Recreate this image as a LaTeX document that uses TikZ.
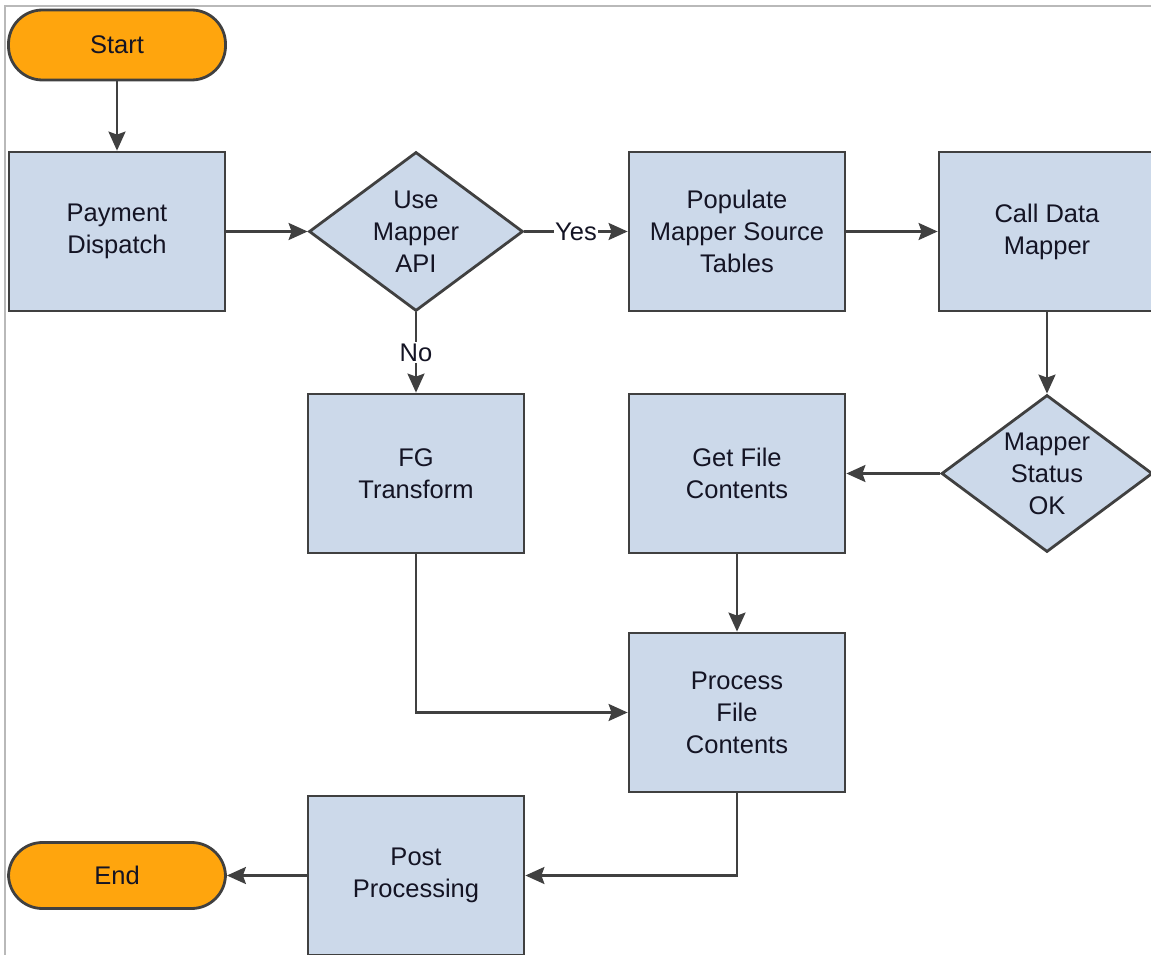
\documentclass[tikz,border=0pt]{standalone}
\usepackage{fontspec}
\setmainfont{Liberation Sans}
\usetikzlibrary{shapes.geometric,arrows.meta}
\definecolor{boxfill}{HTML}{CCD9EA}
\definecolor{boxline}{HTML}{404040}
\definecolor{pillfill}{HTML}{FFA50D}
\definecolor{txt}{HTML}{141424}
\tikzset{
  base/.style={draw=boxline, line width=2.8pt, text=txt, align=center,
    font=\fontsize{25.5}{32}\selectfont, inner sep=0pt},
  procbox/.style={base, rectangle, fill=boxfill, minimum width=216pt, minimum height=159pt},
  decbox/.style={base, diamond, fill=boxfill, aspect=1.35, minimum width=214pt, minimum height=159pt},
  pill/.style={base, rectangle, rounded corners=34pt, fill=pillfill, minimum width=217pt},
  conn/.style={draw=boxline, line width=2.4pt, -{Stealth[length=19pt,width=17pt,inset=3pt]}},
  lbl/.style={fill=white, text=txt, font=\fontsize{25.5}{32}\selectfont, inner sep=1.5pt}
}
\begin{document}
\begin{tikzpicture}[x=1pt,y=-1pt]
\useasboundingbox (0,0) rectangle (1151,955);
\fill[white] (0,0) rectangle (1151,955);
\draw[gray!55, line width=1.2pt] (5,955) -- (5,6) -- (1151,6);

\node[pill, minimum height=70pt] (start) at (117,45) {Start};
\node[procbox] (pay) at (117,231.5) {Payment\\Dispatch};
\node[decbox] (use) at (416,231.5) {Use\\Mapper\\API};
\node[procbox] (pop) at (737,231.5) {Populate\\Mapper Source\\Tables};
\node[procbox] (call) at (1047,231.5) {Call Data\\Mapper};
\node[decbox, minimum width=211pt, minimum height=157pt] (stat) at (1047,473.5) {Mapper\\Status\\OK};
\node[procbox] (fg) at (416,473.5) {FG\\Transform};
\node[procbox] (get) at (737,473.5) {Get File\\Contents};
\node[procbox] (proc) at (737,712.5) {Process\\File\\Contents};
\node[procbox] (post) at (416,875.5) {Post\\Processing};
\node[pill, minimum height=66pt] (end) at (117,875.5) {End};

\draw[conn] (start) -- (pay);
\draw[conn] (pay) -- (use);
\draw[conn] (use.east) -- node[lbl] {Yes} (pop.west);
\draw[conn] (use.south) -- node[lbl] {No} (fg.north);
\draw[conn] (pop) -- (call);
\draw[conn] (call.south) -- (stat.north);
\draw[conn] (stat.west) -- (get.east);
\draw[conn] (get) -- (proc);
\draw[conn] (fg.south) |- (proc.west);
\draw[conn] (proc.south) |- (post.east);
\draw[conn] (post.west) -- (end.east);
\end{tikzpicture}
\end{document}
